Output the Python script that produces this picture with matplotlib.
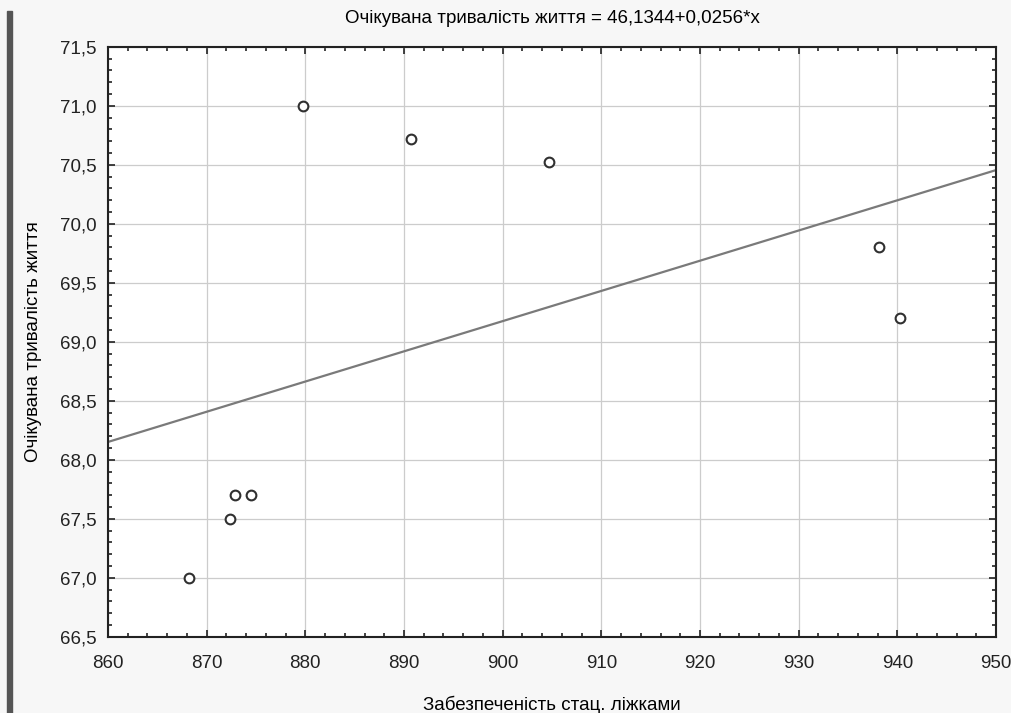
import numpy as np
import matplotlib.pyplot as plt
from matplotlib.ticker import MultipleLocator, FuncFormatter
from matplotlib.patches import Rectangle

plt.rcParams['font.family'] = ['Liberation Sans', 'DejaVu Sans']

# дані з графіка
beds = [868.2, 872.4, 872.9, 874.5, 879.8, 890.7, 904.7, 938.1, 940.3]
life = [67.0, 67.5, 67.7, 67.7, 71.0, 70.72, 70.52, 69.8, 69.2]
intercept = 46.1344
slope = 0.0256

fig = plt.figure(figsize=(10.12, 7.13), dpi=100)
fig.patch.set_facecolor('#f7f7f7')
fig.patches.append(Rectangle((0.007, 0.0), 0.005, 0.985, transform=fig.transFigure,
                             color='#555555', zorder=0))
ax = fig.add_axes([0.1067, 0.107, 0.8775, 0.8275])
ax.set_facecolor('white')

xs = np.array([860, 950])
ax.plot(xs, intercept + slope * xs, color='#7a7a7a', lw=1.6, zorder=2)
ax.plot(beds, life, 'o', mfc='white', mec='#303030', mew=1.5, ms=7, zorder=3)

ax.set_xlim(860, 950)
ax.set_ylim(66.5, 71.5)
ax.xaxis.set_major_locator(MultipleLocator(10))
ax.xaxis.set_minor_locator(MultipleLocator(2))
ax.yaxis.set_major_locator(MultipleLocator(0.5))
ax.yaxis.set_minor_locator(MultipleLocator(0.1))
ax.yaxis.set_major_formatter(FuncFormatter(lambda v, p: f'{v:.1f}'.replace('.', ',')))
ax.grid(True, which='major', color='#cccccc', lw=0.9)
ax.tick_params(which='both', direction='in', top=True, right=True, labelsize=13.5,
               colors='#222222', width=1.2)
ax.tick_params(which='major', length=5)
ax.tick_params(axis='x', which='major', pad=13)
ax.tick_params(axis='y', which='major', pad=8)
ax.tick_params(which='minor', length=3)
for s in ax.spines.values():
    s.set_linewidth(1.5)
    s.set_color('#222222')

ax.set_title('Очікувана тривалість життя = 46,1344+0,0256*x', fontsize=13.5, pad=17)
ax.set_xlabel('Забезпеченість стац. ліжками', fontsize=13.5, labelpad=17)
ax.set_ylabel('Очікувана тривалість життя', fontsize=13.5, labelpad=13)

fig.savefig('out.png', dpi=100, facecolor=fig.get_facecolor())
